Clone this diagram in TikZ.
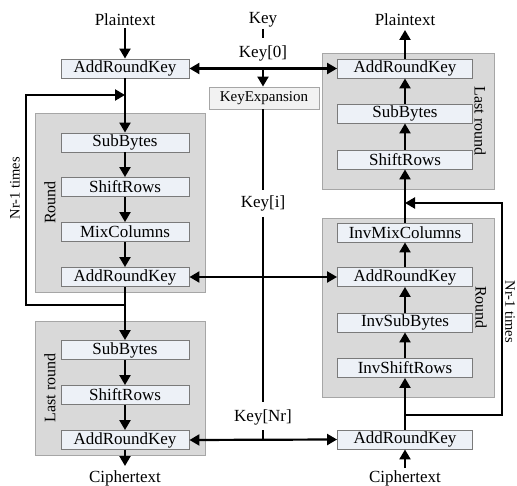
\documentclass[tikz,border=0pt]{standalone}
\usepackage{fontspec}
\setmainfont{Liberation Serif}
\usetikzlibrary{arrows.meta}
\definecolor{boxfill}{HTML}{EDF1F7}
\definecolor{boxline}{HTML}{7A7A7A}
\definecolor{grpfill}{HTML}{D9D9D9}
\definecolor{grpline}{HTML}{A6A6A6}
\definecolor{kefill}{HTML}{F2F2F2}
\begin{document}
\begin{tikzpicture}[x=1pt,y=-1pt,
  stepbox/.style={draw=boxline,fill=boxfill,line width=0.9pt,inner sep=0pt,minimum height=19pt,font=\fontsize{17}{19}\selectfont},
  lbox/.style={stepbox,minimum width=128pt},
  rbox/.style={stepbox,minimum width=135pt},
  grp/.style={draw=grpline,fill=grpfill,line width=0.9pt},
  txt/.style={inner sep=0pt,font=\fontsize{17}{19}\selectfont},
  side/.style={inner sep=0pt,font=\fontsize{16}{18}\selectfont},
  times/.style={inner sep=0pt,font=\fontsize{14.5}{16}\selectfont},
  arr/.style={line width=2.2pt,-{Triangle[length=10pt,width=11pt]}},
  darr/.style={line width=2.2pt,{Triangle[length=10pt,width=11pt]}-{Triangle[length=10pt,width=11pt]}},
  ln/.style={line width=2.2pt},
  kln/.style={line width=1.8pt}]
\useasboundingbox (0,0) rectangle (517,486);
% group boxes
\draw[grp] (35,113) rectangle (205,292);
\draw[grp] (35,321) rectangle (205,455);
\draw[grp] (322,53) rectangle (494,189);
\draw[grp] (322,218) rectangle (494,397);
% group labels
\node[side,rotate=90] (lround) at (50,202.5) {Round};
\node[side,rotate=90] (llast) at (50,388) {Last round};
\node[side,rotate=-90] (rlast) at (480,121) {Last round};
\node[side,rotate=-90] (rround) at (481,307.5) {Round};
\node[times,rotate=90] (ltimes) at (15,188) {Nr-1 times};
\node[times,rotate=-90] (rtimes) at (510,312) {Nr-1 times};
% left column
\node[txt] (pt1) at (125,20) {Plaintext};
\node[lbox] (ak1) at (125,68.5) {AddRoundKey};
\node[lbox] (sb1) at (125,142.5) {SubBytes};
\node[lbox] (sr1) at (125,187) {ShiftRows};
\node[lbox] (mc1) at (125,232) {MixColumns};
\node[lbox] (ak2) at (125,277) {AddRoundKey};
\node[lbox] (sb2) at (125,350) {SubBytes};
\node[lbox] (sr2) at (125,395) {ShiftRows};
\node[lbox] (ak3) at (125,440) {AddRoundKey};
\node[txt] (ct1) at (125,478) {Ciphertext};
% right column
\node[txt] (pt2) at (405,20) {Plaintext};
\node[rbox] (rak1) at (405,68.5) {AddRoundKey};
\node[rbox] (rsb) at (405,113.5) {SubBytes};
\node[rbox] (rsr) at (405,159.5) {ShiftRows};
\node[rbox] (imc) at (405,232.5) {InvMixColumns};
\node[rbox] (rak2) at (405,277) {AddRoundKey};
\node[rbox] (isb) at (405,322.5) {InvSubBytes};
\node[rbox] (isr) at (405,368) {InvShiftRows};
\node[rbox] (rak3) at (405,439.5) {AddRoundKey};
\node[txt] (ct2) at (405,478) {Ciphertext};
% key column
\node[txt] (key) at (263,20) {Key};
\node[txt] (k0) at (263,53) {Key[0]};
\node[draw=grpline,fill=kefill,line width=0.9pt,inner sep=0pt,minimum width=110pt,minimum height=22pt,font=\fontsize{15}{17}\selectfont] (ke) at (264,98) {KeyExpansion};
\node[txt] (ki) at (263,203) {Key[i]};
\node[txt] (knr) at (263,417) {Key[Nr]};
\coordinate (kj0) at (263,69);
\coordinate (kj1) at (263,277);
\coordinate (kj2) at (263,440);
% key lines
\draw[kln] (263,29) -- (263,38);
\draw[darr] (ak1.east) -- (rak1.west);
\draw[arr] (kj0) -- (kj0 |- ke.north);
\draw[kln] (kj0 |- ke.south) -- (263,190);
\draw[kln] (263,217) -- (263,402);
\draw[kln] (263,430) -- (kj2);
\draw[darr] (ak2.east) -- (rak2.west);
\draw[darr] (ak3.east) -- (rak3.west);
% left flow
\coordinate (lt) at (125,95);
\coordinate (lb) at (125,305);
\draw[arr] (125,28) -- (ak1.north);
\draw[arr] (ak1.south) -- (sb1.north);
\draw[arr] (sb1.south) -- (sr1.north);
\draw[arr] (sr1.south) -- (mc1.north);
\draw[arr] (mc1.south) -- (ak2.north);
\draw[arr] (ak2.south) -- (sb2.north);
\draw[arr] (sb2.south) -- (sr2.north);
\draw[arr] (sr2.south) -- (ak3.north);
\draw[arr] (ak3.south) -- (125,466);
\draw[arr] (lb) -- (26,305) -- (26,95) -- (lt);
% right flow
\coordinate (rt) at (405,203);
\coordinate (rb) at (405,415);
\draw[arr] (405,468) -- (rak3.south);
\draw[arr] (rak3.north) -- (isr.south);
\draw[arr] (isr.north) -- (isb.south);
\draw[arr] (isb.north) -- (rak2.south);
\draw[arr] (rak2.north) -- (imc.south);
\draw[arr] (imc.north) -- (rsr.south);
\draw[arr] (rsr.north) -- (rsb.south);
\draw[arr] (rsb.north) -- (rak1.south);
\draw[arr] (rak1.north) -- (405,30);
\draw[arr] (rb) -- (502,415) -- (502,203) -- (rt);
\end{tikzpicture}
\end{document}
